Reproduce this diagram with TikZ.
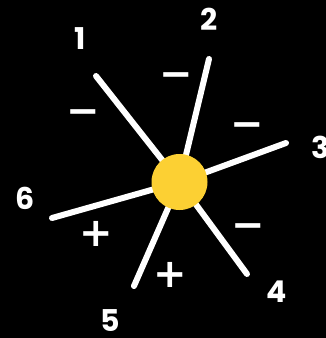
\documentclass[tikz,border=0pt]{standalone}
\usepackage{fontspec}
\setmainfont{Poppins}
\newfontfamily\symfont{DejaVu Sans}
\definecolor{sun}{HTML}{FCD033}
\tikzset{
  ray/.style={draw=white, line width=6pt, line cap=round},
  num/.style={text=white, font=\bfseries\fontsize{30}{30}\selectfont, inner sep=0pt},
  sgn/.style={text=white, font=\symfont\bfseries\fontsize{40}{40}\selectfont, inner sep=0pt},
}
\begin{document}
\begin{tikzpicture}[x=1pt,y=-1pt]
\fill[black] (0,0) rectangle (326,338);
\useasboundingbox (0,0) rectangle (326,338);
\coordinate (c) at (179.5,182);
\coordinate (e1) at (96,76);
\coordinate (e2) at (209,59);
\coordinate (e3) at (286,143);
\coordinate (e4) at (247,274);
\coordinate (e5) at (134,286);
\coordinate (e6) at (52,218);
\foreach \e in {e1,e2,e3,e4,e5,e6} \draw[ray] (c) -- (\e);
\node[circle, fill=sun, minimum size=56pt, inner sep=0pt] (sunnode) at (c) {};
\node[num] (n1) at (80,39) {1};
\node[num] (n2) at (209,19) {2};
\node[num] (n3) at (321,147) {3};
\node[num] (n4) at (277,292) {4};
\node[num] (n5) at (110,321) {5};
\node[num] (n6) at (25,198) {6};
\node[sgn] (s1) at (83,117) {−};
\node[sgn] (s2) at (176,80) {−};
\node[sgn] (s3) at (247,130) {−};
\node[sgn] (s4) at (248,231) {−};
\node[sgn] (s6) at (96,234) {+};
\node[sgn] (s5) at (170,275) {+};
\end{tikzpicture}
\end{document}
